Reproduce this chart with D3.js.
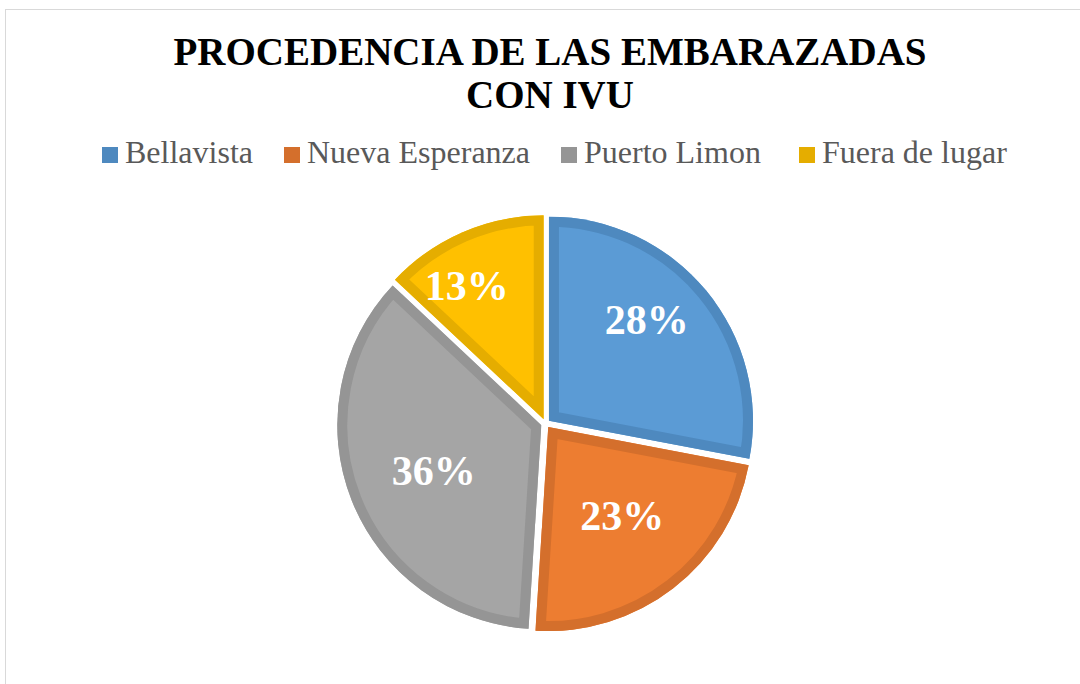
<!DOCTYPE html>
<html><head><meta charset="utf-8">
<script src="https://cdn.jsdelivr.net/npm/d3@7"></script>
<style>body{margin:0;background:#fff}svg{display:block}</style>
</head><body><svg id="c" width="1080" height="684"></svg>
<script>
const categories = ["Bellavista", "Nueva Esperanza", "Puerto Limon", "Fuera de lugar"];
const values = [28, 23, 36, 13];
const valueLabels = ["28%", "23%", "36%", "13%"];
const titleLines = ["PROCEDENCIA DE LAS EMBARAZADAS", "CON IVU"];

const fillColors = ["#5B9BD5", "#ED7D31", "#A5A5A5", "#FFC000"];
const strokeColors = ["#4E89BF", "#D46F2C", "#959595", "#E5AD00"];
// label placement tweaks (degrees shift from bisector, fraction of radius)
const labelAngleShift = [-6, -1.8, -1.5, -6.5];
const labelRadiusFrac = [0.71, 0.59, 0.595, 0.775];
// legend marker left edges (layout)
const legendX = [102, 284, 561, 799];

const svg = d3.select("#c");
const W = 1080, H = 684;
const cx = 545.5, cy = 423.5, R = 204, explode = 4.5, band = 10;
const serif = "'Liberation Serif','Times New Roman',serif";

// chart border
svg.append("rect").attr("x", 5.5).attr("y", 9.5).attr("width", W + 20).attr("height", H + 20)
  .attr("fill", "#fff").attr("stroke", "#D9D9D9").attr("stroke-width", 1);

// title
const title = svg.append("text").attr("x", 550).attr("text-anchor", "middle")
  .attr("font-family", serif).attr("font-weight", "bold").attr("font-size", 39).attr("fill", "#000");
titleLines.forEach((t, i) => title.append("tspan").attr("x", 550).attr("y", i === 0 ? 65 : 108).text(t));

// legend
const sq = 16, gapText = 7;
const items = svg.append("g").selectAll("g").data(categories).join("g");
items.append("rect").attr("x", (d, i) => legendX[i]).attr("y", 147)
  .attr("width", sq).attr("height", sq).attr("fill", (d, i) => strokeColors[i]);
items.append("text").attr("x", (d, i) => legendX[i] + sq + gapText).attr("y", 163)
  .attr("font-family", serif).attr("font-size", 32)
  .attr("fill", "#595959").text(d => d);

// pie
const pie = d3.pie().sort(null).value(d => d);
const arcs = pie(values);
const arc = d3.arc().innerRadius(0).outerRadius(R);
const defs = svg.append("defs");
const pieG = svg.append("g").attr("transform", `translate(${cx},${cy})`);

arcs.forEach((a, i) => {
  const mid = (a.startAngle + a.endAngle) / 2;
  const ox = Math.sin(mid) * explode, oy = -Math.cos(mid) * explode;
  const g = pieG.append("g").attr("transform", `translate(${ox},${oy})`);
  const p = arc(a);
  defs.append("clipPath").attr("id", "clip" + i).append("path").attr("d", p);
  g.append("path").attr("d", p).attr("fill", fillColors[i]);
  g.append("path").attr("d", p).attr("fill", "none").attr("stroke", strokeColors[i])
    .attr("stroke-width", band * 2).attr("stroke-linejoin", "miter")
    .attr("clip-path", `url(#clip${i})`);
});

// value labels
arcs.forEach((a, i) => {
  const mid = (a.startAngle + a.endAngle) / 2 + labelAngleShift[i] * Math.PI / 180;
  const r = R * labelRadiusFrac[i];
  pieG.append("text").attr("x", Math.sin(mid) * r).attr("y", -Math.cos(mid) * r)
    .attr("text-anchor", "middle").attr("dominant-baseline", "central")
    .attr("font-family", serif).attr("font-weight", "bold").attr("font-size", 42)
    .attr("fill", "#fff").text(valueLabels[i]);
});
</script></body></html>
